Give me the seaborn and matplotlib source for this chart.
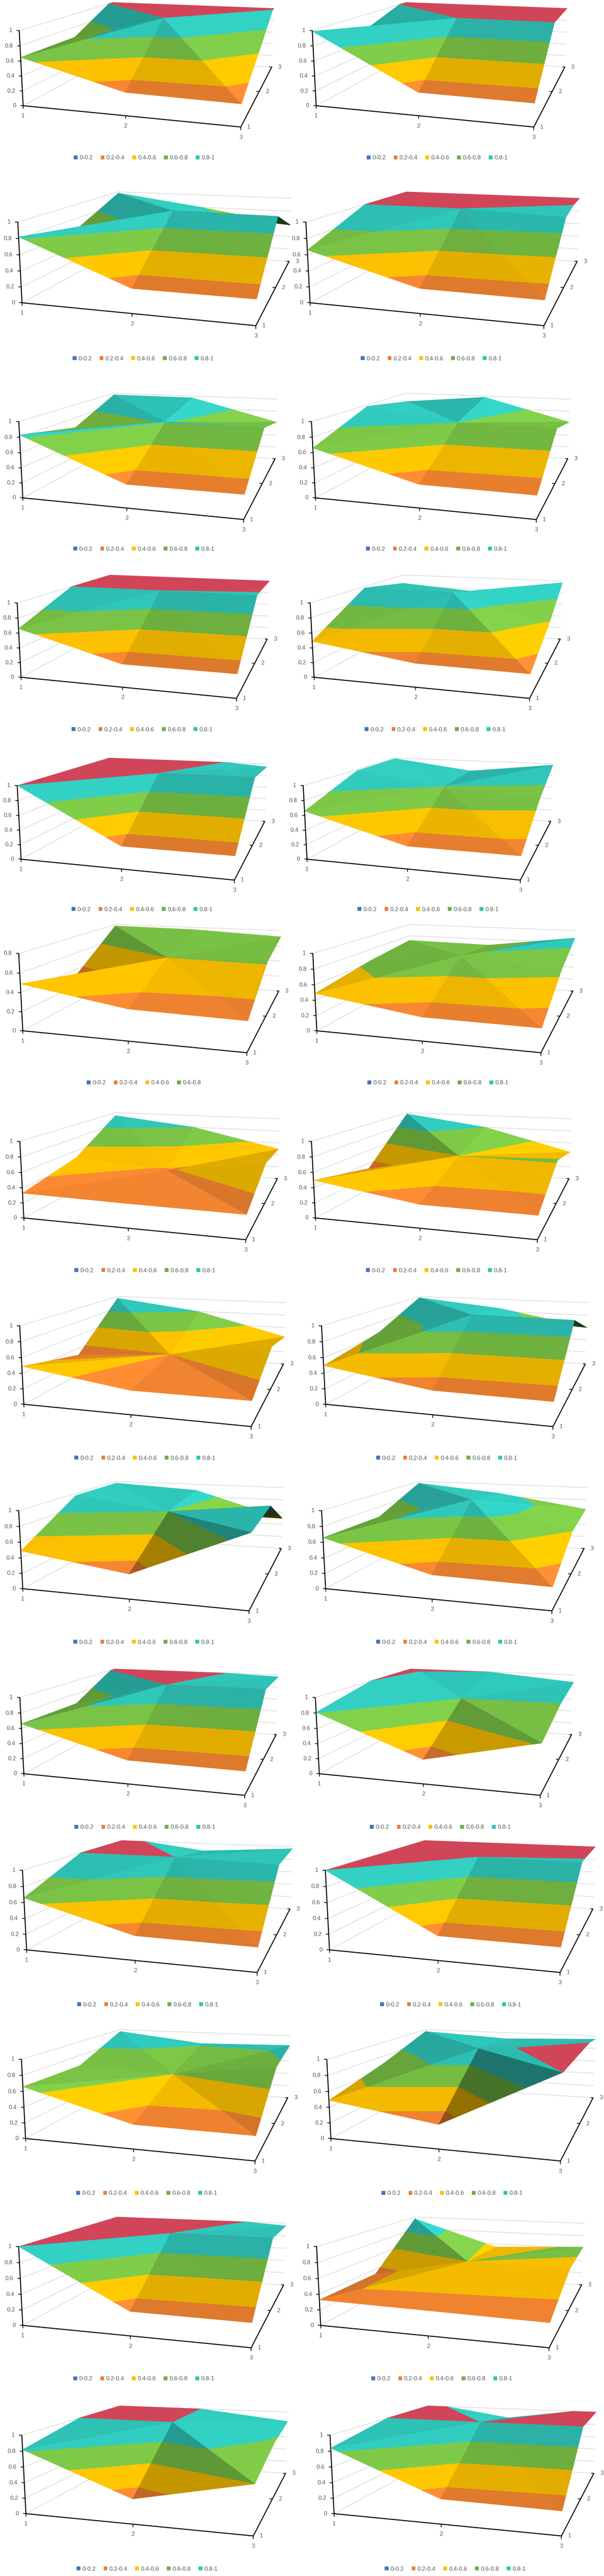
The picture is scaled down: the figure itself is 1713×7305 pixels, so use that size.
import numpy as np
import matplotlib
matplotlib.use("Agg")
import matplotlib.pyplot as plt
import matplotlib.colors as mcolors
import seaborn as sns
from matplotlib import font_manager
from matplotlib.patches import Patch
from matplotlib.transforms import offset_copy
from mpl_toolkits.mplot3d.art3d import Poly3DCollection

# ---------------- data ----------------
categories = [1, 2, 3]          # front axis
series = [1, 2, 3]              # depth axis, 1 = front row
band_labels = ["0-0.2", "0.2-0.4", "0.4-0.6", "0.6-0.8", "0.8-1"]
legend_colors = ["#4472C4", "#ED7D31", "#FFC000", "#70AD47", "#2FC4B6"]
# surface colours per band (unlit); the last one is used above the axis maximum
surface_colors = ["#3F69B5", "#DF7A2D", "#E3AE00", "#6EB03F", "#2BB3A8", "#C14051"]

# each surface: rows = series 1..3, columns = categories 1..3
s01 = [[0.65, 0.30, 0.28], [0.64, 1.00, 0.65], [1.05, 1.05, 1.05]]
s02 = [[0.99, 0.30, 0.29], [0.78, 1.00, 1.00], [1.05, 1.05, 1.05]]
s03 = [[0.82, 0.30, 0.30], [0.65, 0.97, 0.96], [0.98, 0.80, 0.58]]
s04 = [[0.66, 0.30, 0.29], [1.00, 1.00, 0.95], [1.05, 1.05, 1.05]]
s05 = [[0.83, 0.30, 0.30], [0.65, 0.81, 0.80], [0.97, 0.97, 0.62]]
s06 = [[0.66, 0.30, 0.29], [0.98, 0.80, 0.79], [0.85, 0.98, 0.62]]
s07 = [[0.66, 0.30, 0.30], [1.00, 1.00, 0.99], [1.05, 1.05, 1.05]]
s08 = [[0.49, 0.31, 0.30], [0.98, 0.97, 0.58], [0.85, 0.75, 0.97]]
s09 = [[1.00, 0.30, 0.30], [1.05, 1.00, 1.00], [1.05, 1.05, 0.95]]
s10 = [[0.66, 0.30, 0.30], [0.98, 0.80, 0.70], [0.99, 0.82, 0.98]]
s11 = [[0.49, 0.32, 0.30], [0.33, 0.60, 0.62], [0.78, 0.77, 0.72]]
s12 = [[0.49, 0.30, 0.29], [0.63, 0.78, 0.65], [0.72, 0.70, 0.88]]
s13 = [[0.33, 0.31, 0.30], [0.50, 0.38, 0.58], [0.95, 0.80, 0.50]]
s14 = [[0.50, 0.30, 0.29], [0.32, 0.60, 0.62], [0.98, 0.80, 0.45]]
s15 = [[0.49, 0.30, 0.30], [0.30, 0.40, 0.60], [0.97, 0.80, 0.45]]
s16 = [[0.50, 0.30, 0.29], [0.65, 0.97, 0.96], [0.98, 0.85, 0.60]]
s17 = [[0.49, 0.31, 0.90], [0.97, 0.80, 0.95], [0.97, 0.90, 0.50]]
s18 = [[0.66, 0.30, 0.28], [0.65, 0.97, 0.60], [0.97, 0.85, 0.65]]
s19 = [[0.66, 0.30, 0.29], [0.65, 1.00, 1.00], [1.05, 1.02, 0.97]]
s20 = [[0.81, 0.31, 0.62], [1.00, 0.80, 0.80], [1.05, 1.00, 0.88]]
s21 = [[0.66, 0.30, 0.29], [1.00, 1.00, 0.96], [1.05, 0.88, 0.97]]
s22 = [[1.00, 0.30, 0.29], [1.05, 1.00, 0.99], [1.05, 1.05, 1.05]]
s23 = [[0.66, 0.30, 0.29], [0.65, 0.60, 0.78], [0.97, 0.82, 0.85]]
s24 = [[0.49, 0.30, 1.00], [0.70, 0.97, 1.05], [0.97, 0.90, 0.95]]
s25 = [[1.00, 0.30, 0.29], [1.05, 1.00, 1.00], [1.05, 1.05, 0.96]]
s26 = [[0.33, 0.31, 0.29], [0.33, 0.60, 0.58], [0.97, 0.55, 0.62]]
s27 = [[0.82, 0.31, 0.60], [1.00, 1.00, 0.78], [1.05, 1.00, 0.85]]
s28 = [[0.84, 0.31, 0.29], [1.00, 1.00, 1.00], [1.05, 0.85, 1.05]]

surfaces = [s01, s02, s03, s04, s05, s06, s07, s08, s09, s10, s11, s12, s13, s14,
            s15, s16, s17, s18, s19, s20, s21, s22, s23, s24, s25, s26, s27, s28]
axis_max = [1.0, 1.0, 1.0, 1.0, 1.0, 1.0, 1.0, 1.0, 1.0, 1.0, 0.8, 1.0, 1.0, 1.0,
            1.0, 1.0, 1.0, 1.0, 1.0, 1.0, 1.0, 1.0, 1.0, 1.0, 1.0, 1.0, 1.0, 1.0]

# ---------------- layout (image pixels) ----------------
W, H = 1713, 7305
row_z0 = [288, 846, 1400, 1909, 2425, 2911, 3442, 3970, 4493, 5018, 5517, 6052, 6582, 7116]
row_unit = [202, 217, 205, 200, 198, 208, 206, 211, 210, 205, 214, 213, 212, 211]
row_legend = [448, 1017, 1557, 2069, 2579, 3071, 3603, 4135, 4657, 5182, 5685, 6220, 6746, 7285]
left_x = [69, 66, 68, 63, 63, 68, 71, 71, 68, 71, 79, 76, 68, 77]
right_x = [900, 883, 898, 894, 874, 902, 898, 927, 927, 909, 938, 942, 913, 951]

# camera matched to the reference (a 200 px tall value axis with its foot at x=69, y=288)
ELEV, AZIM, FOCAL = 11.69, -72.99, 0.365
BY, BZ = 1.110, 0.348
CAM_S, CAM_TX, CAM_TY = 4368.52, 458.95, 147.20

sns.set_theme(style="white")
names = {f.name for f in font_manager.fontManager.ttflist}
narrow = "Liberation Sans Narrow" in names
plt.rcParams["font.family"] = ["Liberation Sans Narrow" if narrow else "Liberation Sans", "DejaVu Sans"]
ink = "#595959"

er, ar = np.radians(ELEV), np.radians(AZIM)
view_dir = np.array([np.cos(er) * np.cos(ar), np.cos(er) * np.sin(ar), np.sin(er)])


def surface_triangles(z):
    # every cell is split along the diagonal that meets the centre point
    g = [[np.array([categories[i], series[j], z[j][i]], float) for i in range(3)] for j in range(3)]
    tris = []
    for j in range(2):
        for i in range(2):
            q = {(0, 0): g[j][i], (1, 0): g[j][i + 1], (1, 1): g[j + 1][i + 1], (0, 1): g[j + 1][i]}
            c = (1 - i, 1 - j)
            o = (1 - c[0], 1 - c[1])
            tris.append((q[c], q[(c[0], o[1])], q[o]))
            tris.append((q[c], q[(o[0], c[1])], q[o]))
    return tris


def cut(pts, level, above):
    out = []
    for k in range(len(pts)):
        p, q = pts[k], pts[(k + 1) % len(pts)]
        p_in = p[2] >= level if above else p[2] <= level
        q_in = q[2] >= level if above else q[2] <= level
        if p_in:
            out.append(p)
        if p_in != q_in:
            t = (level - p[2]) / (q[2] - p[2])
            out.append(p + t * (q - p))
    return out


def band_piece(tri, lo, hi):
    pts = list(tri)
    if np.isfinite(lo):
        pts = cut(pts, lo, True)
    if len(pts) >= 3 and np.isfinite(hi):
        pts = cut(pts, hi, False)
    return pts


def lit(hex_color, n):
    f = 0.64 * n[0] + 1.084 * n[2]
    if n @ view_dir < 0:
        f = 0.3
    f = min(max(f, 0.3), 1.3)
    return np.clip(np.array(mcolors.to_rgb(hex_color)) * f, 0, 1)


fig = plt.figure(figsize=(W / 100, H / 100), dpi=100)
fig.patch.set_facecolor("white")
panels = []

for idx, (z, zmax) in enumerate(zip(surfaces, axis_max)):
    r, c = divmod(idx, 2)
    ax = fig.add_axes([0, 0, 0.2, 0.2 * W / H], projection="3d", computed_zorder=False)
    ax.set_axis_off()
    ax.set_facecolor((1, 1, 1, 0))
    levels = [round(0.2 * k, 6) for k in range(1, int(round(zmax / 0.2)) + 1)]
    scale = np.array([0.5, BY / 2, BZ / zmax])

    verts, cols = [], []
    for tri in surface_triangles(z):
        P = np.array(tri)
        n = np.cross((P[1] - P[0]) * scale, (P[2] - P[0]) * scale)
        if n[2] < 0:
            n = -n
        n /= np.linalg.norm(n)
        lo = -np.inf
        for k, hi in enumerate(levels + [np.inf]):
            piece = band_piece(P, lo, hi)
            lo = hi
            if len(piece) < 3:
                continue
            piece = np.array(piece)
            nn = n
            if k == len(levels):      # above the axis maximum: flattened onto the top
                piece[:, 2] = zmax
                nn = np.array([0.0, 0.0, 1.0])
            cols.append(lit(surface_colors[k], nn))
            verts.append(piece)
    coll = Poly3DCollection(verts, facecolors=cols, edgecolors=cols, linewidths=0.6)
    ax.add_collection3d(coll)
    coll.set_zorder(2)
    coll.set_clip_on(False)

    ticks = [0.0] + levels
    for zt in ticks:
        ax.plot([1, 1, 3], [1, 3, 3], [zt, zt, zt], color="#D9D9D9", lw=1.3, zorder=1, clip_on=False)
    axis_kw = dict(color="black", lw=2.0, zorder=4, clip_on=False)
    ax.plot([1, 1], [1, 1], [0, zmax], **axis_kw)
    ax.plot([1, 3], [1, 1], [0, 0], **axis_kw)
    ax.plot([3, 3], [1, 3], [0, 0], **axis_kw)
    tick_kw = dict(color="black", lw=1.5, zorder=4, clip_on=False)
    for zt in ticks:
        ax.plot([1, 0.975], [1, 1], [zt, zt], **tick_kw)
    for xc in categories:
        ax.plot([xc, xc], [1, 1], [0, -0.035 * zmax], **tick_kw)
    for ys in series[1:]:
        ax.plot([3, 2.975], [ys, ys], [0, 0], **tick_kw)

    ax.set_xlim(1, 3); ax.set_ylim(1, 3); ax.set_zlim(0, zmax)
    ax.view_init(elev=ELEV, azim=AZIM)
    ax.set_proj_type("persp", focal_length=FOCAL)
    ax.set_box_aspect((1, BY, BZ))

    M = ax.get_proj()

    def label(x, y, zz, s, dx, dy, ha):
        h = M @ np.array([x, y, zz, 1.0])
        ax.text2D(h[0] / h[3], h[1] / h[3], s,
                  transform=offset_copy(ax.transData, fig=fig, x=dx, y=dy, units="dots"),
                  ha=ha, va="center", fontsize=12, color=ink, zorder=5, clip_on=False)

    for zt in ticks:
        label(1, 1, zt, f"{zt:g}", -20, 0, "right")
    for xc in categories:
        label(xc, 1, 0, str(xc), 0, -29, "center")
    for ys in series:
        label(3, ys, 0, str(ys), 18, 0, "left")

    zx = left_x[r] if c == 0 else right_x[r]
    kk = row_unit[r] / 200.0
    panels.append((ax, kk * CAM_S, zx + kk * (CAM_TX - 69), row_z0[r] + kk * (CAM_TY - 288)))

    nb = len(levels)
    handles = [Patch(facecolor=legend_colors[k], edgecolor="none") for k in range(nb)]
    fig.legend(handles, band_labels[:nb], loc="center", bbox_to_anchor=((zx + 340) / W, 1 - row_legend[r] / H),
               ncol=nb, frameon=False, fontsize=12, labelcolor=ink, handlelength=0.65, handleheight=0.65,
               handletextpad=0.3, columnspacing=1.8 if narrow else 1.35, borderpad=0, borderaxespad=0)

# place every 3D box so its projection lands where the reference draws it
fig.canvas.draw()
for ax, s_px, tx_px, ty_px in panels:
    p0 = ax.transData.transform((0, 0))
    p1 = ax.transData.transform((1, 1))
    su, sv = p1[0] - p0[0], p1[1] - p0[1]
    bb = ax.get_position()
    X0, Y0, L = bb.x0 * W, bb.y0 * H, bb.width * W
    u0, v0 = (X0 - p0[0]) / su, (Y0 - p0[1]) / sv
    L2 = L * s_px / su
    ax.set_position([(tx_px + s_px * u0) / W, (H - ty_px + s_px * v0) / H, L2 / W, L2 / H])

fig.savefig("out.png", dpi=100, facecolor="white")
